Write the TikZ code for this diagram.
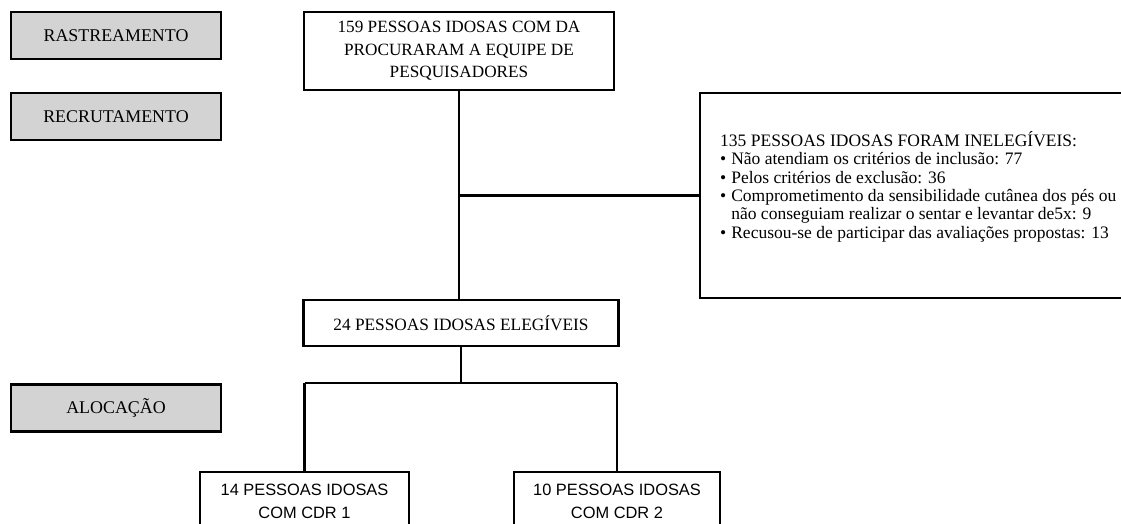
\documentclass[tikz,border=0pt]{standalone}
\usepackage{fontspec}
\setmainfont{Liberation Serif}
\newfontfamily\sansf{Liberation Sans}
\definecolor{stagegray}{HTML}{D3D3D3}
\begin{document}
\begin{tikzpicture}[x=1pt,y=-1pt,
  stagebox/.style={draw=black, line width=2.8pt, fill=stagegray, minimum width=210pt, minimum height=47pt, inner sep=0pt, font=\fontsize{17.9}{20}\selectfont},
  flowbox/.style={draw=black, line width=2.6pt, fill=white, inner sep=0pt, align=center},
  conn/.style={draw=black, line width=2.6pt},
  ]
\useasboundingbox (0,0) rectangle (1121,524);
\clip (0,0) rectangle (1121,524);
% stage labels
\node[stagebox] (rast) at (116,35.5) {RASTREAMENTO};
\node[stagebox] (recr) at (116,116.5) {RECRUTAMENTO};
\node[stagebox] (aloc) at (116,408) {ALOCAÇÃO};
% flow boxes
\node[flowbox, minimum width=310pt, minimum height=78pt, font=\fontsize{17.2}{22.5}\selectfont] (top) at (459,51)
  {159 PESSOAS IDOSAS COM DA\\PROCURARAM A EQUIPE DE\\PESQUISADORES};
\node[flowbox, minimum width=430pt, minimum height=205pt] (inel) at (915,195.5) {};
\node[anchor=west, inner sep=0pt, font=\fontsize{17.5}{18.3}\selectfont] (ineltxt) at (720,187.5)
  {\begin{tabular}{@{}l@{\hspace{5pt}}l@{}}
   \multicolumn{2}{@{}l@{}}{135 PESSOAS IDOSAS FORAM INELEGÍVEIS:}\\
   \textbullet & Não atendiam os critérios de inclusão: 77\\
   \textbullet & Pelos critérios de exclusão: 36\\
   \textbullet & Comprometimento da sensibilidade cutânea dos pés ou\\
   & não conseguiam realizar o sentar e levantar de5x: 9\\
   \textbullet & Recusou-se de participar das avaliações propostas: 13
   \end{tabular}};
\node[flowbox, minimum width=315pt, minimum height=46pt, font=\fontsize{17.3}{20}\selectfont] (elig) at (461,323)
  {24 PESSOAS IDOSAS ELEGÍVEIS};
\node[flowbox, minimum width=209pt, minimum height=58pt, font=\sansf\fontsize{16.4}{23}\selectfont] (cdr1) at (304.5,501)
  {14 PESSOAS IDOSAS\\COM CDR 1};
\node[flowbox, minimum width=206pt, minimum height=58pt, font=\sansf\fontsize{16.4}{23}\selectfont] (cdr2) at (617,501)
  {10 PESSOAS IDOSAS\\COM CDR 2};
% connectors
\coordinate (split) at (461,383);
\draw[conn] (top.south) -- (top.south |- elig.north);
\draw[conn] (top.south |- inel.west) -- (inel.west);
\draw[conn] (elig.south) -- (elig.south |- split);
\draw[conn] (cdr1.north |- split) -- (cdr2.north |- split);
\draw[conn] (cdr1.north |- split) -- (cdr1.north);
\draw[conn] (cdr2.north |- split) -- (cdr2.north);
\end{tikzpicture}
\end{document}
